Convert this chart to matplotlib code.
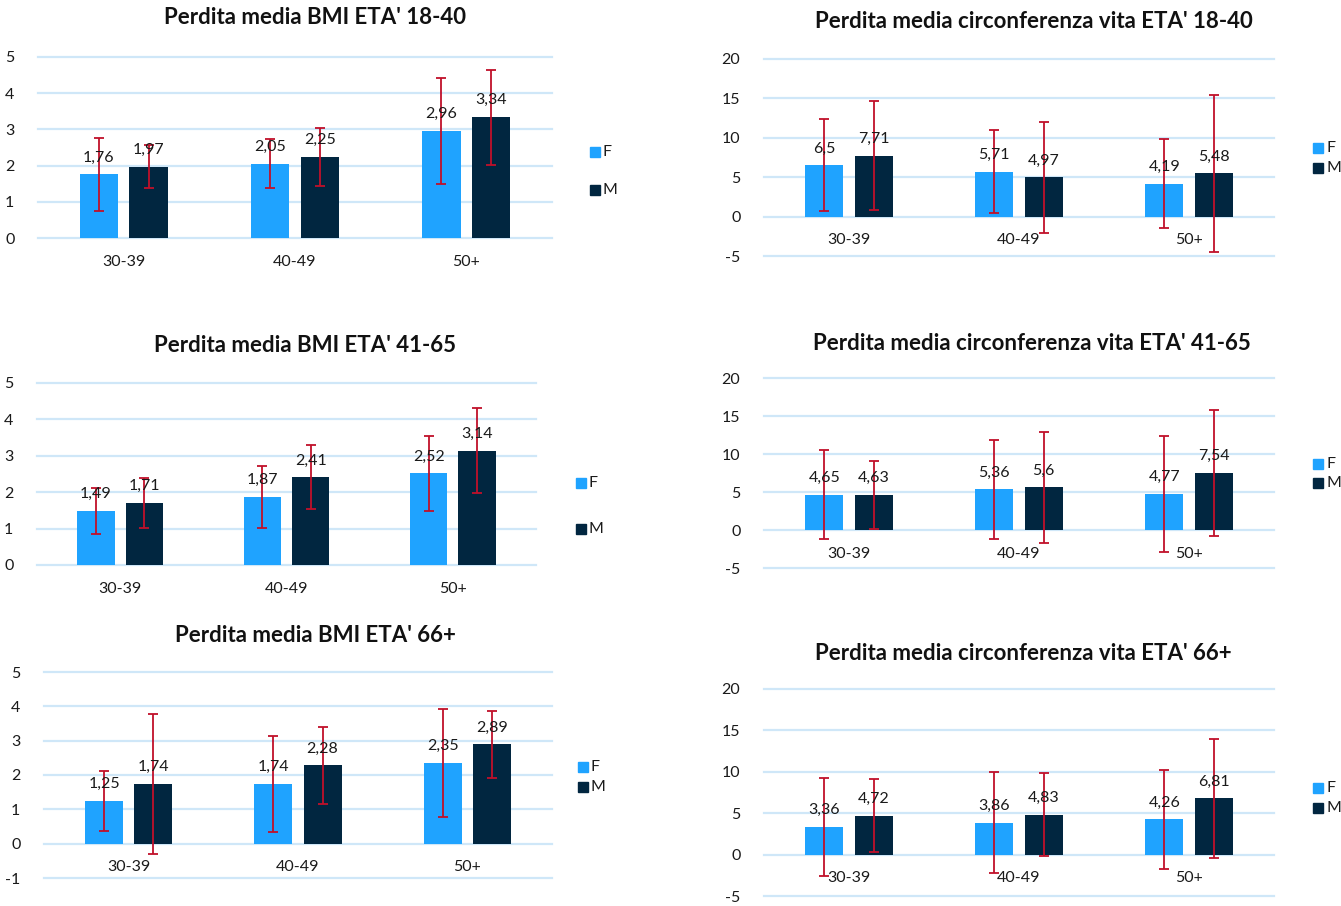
import matplotlib
matplotlib.use("Agg")
import matplotlib.pyplot as plt
from matplotlib.patches import Rectangle

# ----- data -----
age_groups = ["30-39", "40-49", "50+"]

bmi_18_40_f = [1.76, 2.05, 2.96]
bmi_18_40_m = [1.97, 2.25, 3.34]
bmi_18_40_f_err = [1.01, 0.68, 1.47]
bmi_18_40_m_err = [0.60, 0.80, 1.31]

vita_18_40_f = [6.5, 5.71, 4.19]
vita_18_40_m = [7.71, 4.97, 5.48]
vita_18_40_f_err = [5.85, 5.3, 5.6]
vita_18_40_m_err = [6.9, 7.0, 10.0]

bmi_41_65_f = [1.49, 1.87, 2.52]
bmi_41_65_m = [1.71, 2.41, 3.14]
bmi_41_65_f_err = [0.63, 0.85, 1.03]
bmi_41_65_m_err = [0.68, 0.88, 1.17]

vita_41_65_f = [4.65, 5.36, 4.77]
vita_41_65_m = [4.63, 5.6, 7.54]
vita_41_65_f_err = [5.85, 6.5, 7.6]
vita_41_65_m_err = [4.5, 7.25, 8.3]

bmi_66_f = [1.25, 1.74, 2.35]
bmi_66_m = [1.74, 2.28, 2.89]
bmi_66_f_err = [0.87, 1.4, 1.57]
bmi_66_m_err = [2.04, 1.13, 0.98]

vita_66_f = [3.36, 3.86, 4.26]
vita_66_m = [4.72, 4.83, 6.81]
vita_66_f_err = [5.9, 6.1, 6.0]
vita_66_m_err = [4.4, 5.0, 7.2]

# ----- style -----
W, H = 1341, 906
COL_F = "#1FA3FF"
COL_M = "#012640"
COL_ERR = "#C0102A"
COL_GRID = "#CFE7F8"
COL_TXT = "#1A1A1A"
plt.rcParams["font.family"] = ["Lato", "DejaVu Sans"]

fig = plt.figure(figsize=(W / 100, H / 100), dpi=100)
fig.patch.set_facecolor("white")


def fmt(v):
    s = f"{v:.2f}".rstrip("0").rstrip(".")
    return s.replace(".", ",")


def panel(title, f, m, f_err, m_err, box, ylim, ystep, title_xy, legend_xy, legend_gap):
    x0, ytop, x1, ybot = box
    ax = fig.add_axes([x0 / W, 1 - ybot / H, (x1 - x0) / W, (ybot - ytop) / H])
    ax.set_xlim(-0.5, 2.5)
    ax.set_ylim(*ylim)
    ticks = list(range(ylim[0], ylim[1] + 1, ystep))
    ax.set_yticks(ticks)
    ax.set_yticklabels([str(t) for t in ticks], fontsize=11.5, color=COL_TXT)
    for t in ticks:
        ax.axhline(t, color=COL_GRID, lw=1.6, zorder=0, clip_on=False)
    for s in ax.spines.values():
        s.set_visible(False)
    # category labels sit just under the zero line, like Excel
    ax.spines["bottom"].set_position(("data", 0))
    ax.tick_params(axis="y", length=0, pad=17)
    ax.tick_params(axis="x", length=0, pad=12)
    ax.set_xticks(range(len(age_groups)))
    ax.set_xticklabels(age_groups, fontsize=11.5, color=COL_TXT)
    ax.patch.set_alpha(0)

    off, w = 0.145, 0.225
    xs = range(len(age_groups))
    for vals, errs, col, d in [(f, f_err, COL_F, -off), (m, m_err, COL_M, off)]:
        pos = [x + d for x in xs]
        ax.bar(pos, vals, width=w, color=col, zorder=2)
        ax.errorbar(pos, vals, yerr=errs, fmt="none", ecolor=COL_ERR, elinewidth=1.3,
                    capsize=3.5, capthick=1.3, zorder=4, clip_on=False)
        for p, v in zip(pos, vals):
            ax.annotate(fmt(v), (p, v), xytext=(0, 7), textcoords="offset points",
                        ha="center", va="bottom", fontsize=11.5, color=COL_TXT, zorder=5)

    fig.text(title_xy[0] / W, 1 - title_xy[1] / H, title, ha="center", va="center",
             fontsize=16, fontweight="bold", color="#111111")

    lx, ly = legend_xy
    for i, (lab, col) in enumerate([("F", COL_F), ("M", COL_M)]):
        yy = ly + i * legend_gap
        fig.patches.append(Rectangle(((lx - 5) / W, 1 - (yy + 5) / H), 10 / W, 10 / H,
                                     transform=fig.transFigure, color=col))
        fig.text((lx + 8) / W, 1 - yy / H, lab, ha="left", va="center",
                 fontsize=11.5, color=COL_TXT)
    return ax


panel("Perdita media BMI ETA' 18-40", bmi_18_40_f, bmi_18_40_m, bmi_18_40_f_err, bmi_18_40_m_err,
      (38, 57, 552, 238), (0, 5), 1, (315, 18), (595, 152), 38)
panel("Perdita media circonferenza vita ETA' 18-40", vita_18_40_f, vita_18_40_m,
      vita_18_40_f_err, vita_18_40_m_err,
      (764, 59, 1274, 256), (-5, 20), 5, (1034, 21), (1318, 148), 20)
panel("Perdita media BMI ETA' 41-65", bmi_41_65_f, bmi_41_65_m, bmi_41_65_f_err, bmi_41_65_m_err,
      (37, 383, 536, 565), (0, 5), 1, (305, 346), (581, 483), 46)
panel("Perdita media circonferenza vita ETA' 41-65", vita_41_65_f, vita_41_65_m,
      vita_41_65_f_err, vita_41_65_m_err,
      (764, 378, 1274, 568), (-5, 20), 5, (1032, 344), (1318, 464), 19)
panel("Perdita media BMI ETA' 66+", bmi_66_f, bmi_66_m, bmi_66_f_err, bmi_66_m_err,
      (44, 672, 552, 878), (-1, 5), 1, (315, 635), (583, 767), 20)
panel("Perdita media circonferenza vita ETA' 66+", vita_66_f, vita_66_m, vita_66_f_err, vita_66_m_err,
      (764, 689, 1274, 896), (-5, 20), 5, (1023, 654), (1318, 788), 20)

fig.savefig("out.png", dpi=100, facecolor="white")
